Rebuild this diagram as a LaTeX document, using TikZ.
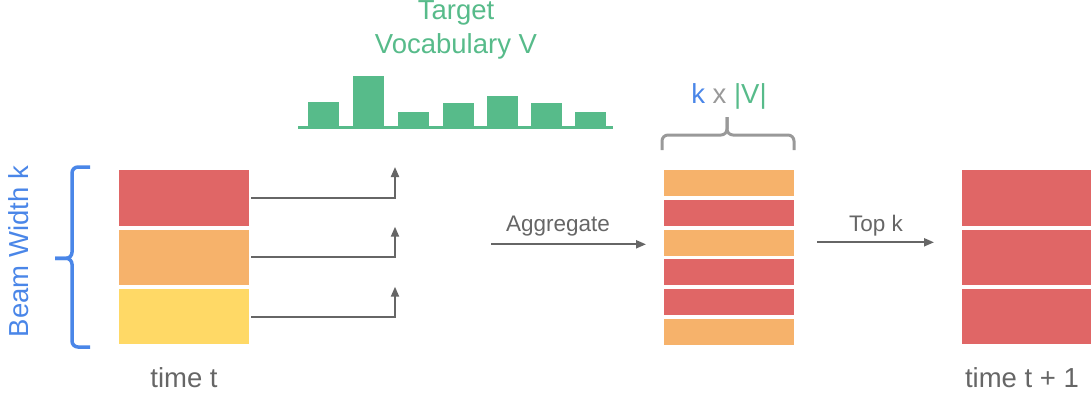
\documentclass[tikz,border=0pt]{standalone}
\usepackage{fontspec}
\setmainfont{Liberation Sans}
\usetikzlibrary{arrows.meta}

\definecolor{cellred}{HTML}{E06666}
\definecolor{cellorange}{HTML}{F6B26B}
\definecolor{cellyellow}{HTML}{FFD966}
\definecolor{vocgreen}{HTML}{57BB8A}
\definecolor{beamblue}{HTML}{4A86E8}
\definecolor{textgray}{HTML}{666666}
\definecolor{bracegray}{HTML}{999999}

\begin{document}
\begin{tikzpicture}[x=1pt, y=-1pt,
    cell/.style={rectangle, inner sep=0pt, outer sep=0pt, minimum width=130pt},
    bigcell/.style={cell, minimum height=55.5pt},
    smallcell/.style={cell, minimum height=26pt},
    flow/.style={draw=textgray, line width=2pt, -{Triangle[length=10pt,width=8pt]}},
    biglabel/.style={font=\fontsize{27.5}{33}\selectfont, anchor=base},
    steplabel/.style={text=textgray, font=\fontsize{22.5}{27}\selectfont, anchor=base}]
    \useasboundingbox (0,0) rectangle (1091,396);

    % beam at time t
    \foreach \c/\y [count=\i] in {cellred/198, cellorange/257.3, cellyellow/316.6}{
        \node[bigcell, fill=\c] (beam\i) at (184,\y) {};
    }
    \node[biglabel, text=textgray] (timet) at (184,387.5) {time t};

    % beam width brace
    \draw[beamblue, line width=3.5pt, rounded corners=6pt]
        (90,167) -- (72,167) -- (72,258.3) -- (55,258.3);
    \draw[beamblue, line width=3.5pt, rounded corners=6pt]
        (90,347) -- (72,347) -- (72,258.3) -- (55,258.3);
    \node[biglabel, anchor=center, rotate=90, text=beamblue] (beamwidth) at (19,251.5) {Beam Width k};

    % scores over the target vocabulary
    \node[biglabel, text=vocgreen] (vocab1) at (456,20) {Target};
    \node[biglabel, text=vocgreen] (vocab2) at (456,53.3) {Vocabulary V};
    \foreach \x/\h in {323.3/101.7, 368.5/76.3, 413.5/112.3, 458.2/102.7, 502.5/96, 546.5/102.7, 590.5/112.3}{
        \fill[vocgreen] (\x-15.5,127.5) rectangle (\x+15.5,\h);
    }
    \draw[vocgreen, line width=2.5pt] (298,127.7) -- (613,127.7);

    % each hypothesis goes up to the vocabulary
    \foreach \i/\y in {1/167, 2/226.7, 3/286.7}{
        \coordinate (up\i) at (395,\y);
        \draw[flow] ([xshift=2pt]beam\i.east) -| (up\i);
    }

    % k x |V| candidates
    \foreach \c/\y [count=\i] in {cellorange/183, cellred/212.5, cellorange/242.5, cellred/272, cellred/301.7, cellorange/331.8}{
        \node[smallcell, fill=\c] (cand\i) at (729,\y) {};
    }
    \draw[bracegray, line width=3pt, rounded corners=6pt]
        (662,150) -- (662,135) -- (727,135) -- (727,117);
    \draw[bracegray, line width=3pt, rounded corners=6pt]
        (794,150) -- (794,135) -- (727,135) -- (727,117);
    \node[biglabel] (size) at (729,103)
        {\textcolor{beamblue}{k} \textcolor{bracegray}{x} \textcolor{vocgreen}{|V|}};

    \coordinate (aggfrom) at (491,244.3);
    \coordinate (aggto) at (646,244.3);
    \draw[flow] (aggfrom) -- (aggto);
    \node[steplabel] (agg) at (558,231.5) {Aggregate};

    % beam at time t + 1
    \foreach \y [count=\i] in {198, 257.3, 316.6}{
        \node[bigcell, fill=cellred] (next\i) at (1027,\y) {};
    }
    \node[biglabel, text=textgray] (timenext) at (1022,387.5) {time t + 1};

    \coordinate (topfrom) at (817,242.3);
    \coordinate (topto) at (934,242.3);
    \draw[flow] (topfrom) -- (topto);
    \node[steplabel] (topk) at (876,231.5) {Top k};
\end{tikzpicture}
\end{document}
